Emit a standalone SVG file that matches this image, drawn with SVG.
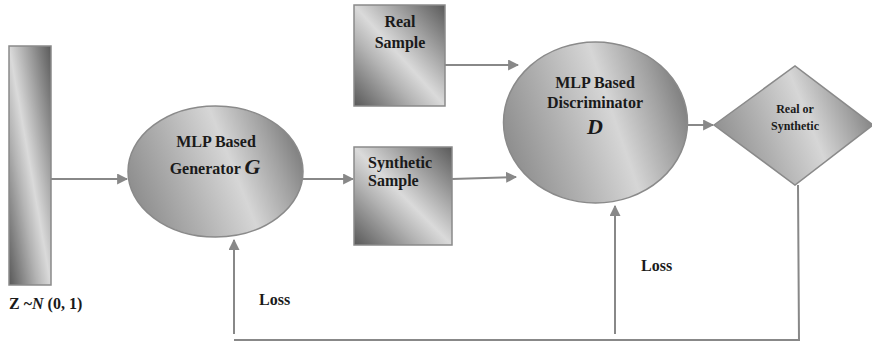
<svg xmlns="http://www.w3.org/2000/svg" width="872" height="343" viewBox="0 0 872 343">
  <defs>
    <!-- brushed-metal fill for the rectangular blocks -->
    <linearGradient id="metalBox" x1="1" y1="0" x2="0" y2="1">
      <stop offset="0" stop-color="#5a5a5a"/>
      <stop offset="0.28" stop-color="#a2a2a2"/>
      <stop offset="0.5" stop-color="#dadada"/>
      <stop offset="0.66" stop-color="#b4b4b4"/>
      <stop offset="1" stop-color="#585858"/>
    </linearGradient>
    <!-- softer metal fill for the round nodes and the decision diamond -->
    <linearGradient id="metalRound" x1="0" y1="0.65" x2="1" y2="0.35">
      <stop offset="0" stop-color="#8c8c8c"/>
      <stop offset="0.3" stop-color="#b0b0b0"/>
      <stop offset="0.6" stop-color="#d6d6d6"/>
      <stop offset="0.85" stop-color="#a0a0a0"/>
      <stop offset="1" stop-color="#7c7c7c"/>
    </linearGradient>
    <marker id="arrow" viewBox="0 0 10 10" refX="9" refY="5" markerWidth="5.5" markerHeight="5.5" orient="auto" markerUnits="strokeWidth">
      <path d="M0,0 L10,5 L0,10 z" fill="#888888"/>
    </marker>
  </defs>
  <style>
    .box { fill: url(#metalBox); stroke: #8a8a8a; stroke-width: 1.5; }
    .round { fill: url(#metalRound); stroke: #8a8a8a; stroke-width: 1.5; }
    .link { fill: none; stroke: #888888; stroke-width: 2; }
    .lbl { font-family: "Liberation Serif", "Times New Roman", serif; font-weight: bold; font-size: 16px; fill: #1a1a1a; }
    .sym { font-style: italic; font-size: 22px; }
    .small { font-size: 12px; }
    .mid { text-anchor: middle; }
  </style>

  <rect width="872" height="343" fill="#ffffff"/>

  <!-- connectors -->
  <g id="connectors">
    <line class="link" x1="51" y1="179" x2="127" y2="179" marker-end="url(#arrow)"/>
    <line class="link" x1="303" y1="179" x2="353" y2="179" marker-end="url(#arrow)"/>
    <line class="link" x1="445" y1="65" x2="518" y2="65" marker-end="url(#arrow)"/>
    <line class="link" x1="452" y1="179" x2="516" y2="177" marker-end="url(#arrow)"/>
    <line class="link" x1="687" y1="125" x2="713" y2="125" marker-end="url(#arrow)"/>
    <!-- loss feedback loop -->
    <polyline class="link" points="798,185 799,340 234,340"/>
    <line class="link" x1="234" y1="334" x2="234" y2="240" marker-end="url(#arrow)"/>
    <line class="link" x1="615" y1="334" x2="615" y2="206" marker-end="url(#arrow)"/>
  </g>

  <!-- latent noise vector -->
  <g id="noise">
    <rect class="box" x="9" y="46" width="42" height="239"/>
    <text class="lbl" x="9" y="309" font-size="14">Z ~<tspan font-style="italic">N</tspan> (0, 1)</text>
  </g>

  <g id="generator">
    <ellipse class="round" cx="215.5" cy="171.5" rx="87.5" ry="65.5"/>
    <text class="lbl mid" x="216" y="147">MLP Based</text>
    <text class="lbl mid" x="215" y="174">Generator <tspan class="sym">G</tspan></text>
  </g>

  <g id="real-sample">
    <rect class="box" x="354" y="5" width="91" height="101"/>
    <text class="lbl mid" x="400" y="27">Real</text>
    <text class="lbl mid" x="400" y="48">Sample</text>
  </g>

  <g id="synthetic-sample">
    <rect class="box" x="354" y="147" width="98" height="98"/>
    <text class="lbl" x="368" y="168">Synthetic</text>
    <text class="lbl" x="368" y="186">Sample</text>
  </g>

  <g id="discriminator">
    <ellipse class="round" cx="595.5" cy="122.5" rx="92" ry="80.5"/>
    <text class="lbl mid" x="595" y="88">MLP Based</text>
    <text class="lbl mid" x="595" y="108">Discriminator</text>
    <text class="lbl sym mid" x="595" y="134">D</text>
  </g>

  <g id="decision">
    <polygon class="round" points="714,125 795,66 873,125 795,185"/>
    <text class="lbl small mid" x="795" y="113">Real or</text>
    <text class="lbl small mid" x="795" y="130">Synthetic</text>
  </g>

  <g id="loss-labels">
    <text class="lbl" x="259" y="305" font-size="15">Loss</text>
    <text class="lbl" x="641" y="271" font-size="15">Loss</text>
  </g>
</svg>
